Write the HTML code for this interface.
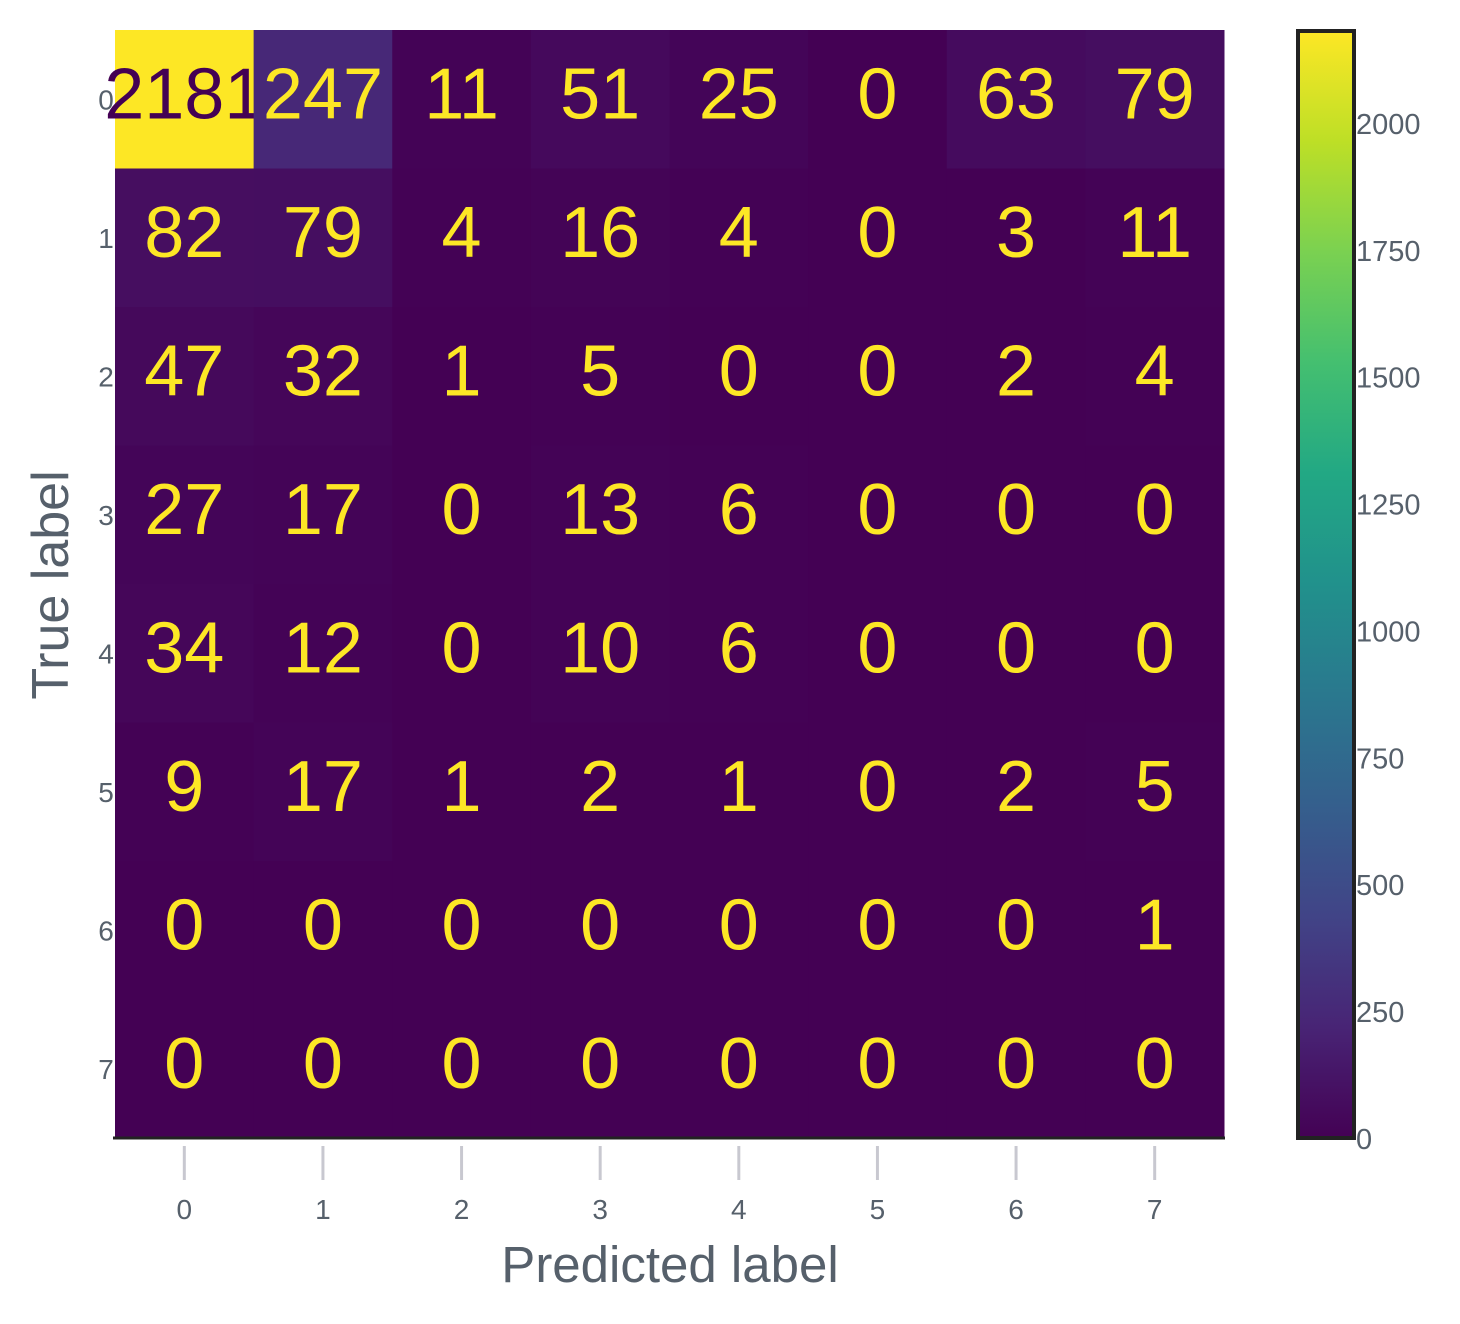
<!DOCTYPE html>
<html><head><meta charset="utf-8"><style>
html,body{margin:0;padding:0;background:#fff;}
svg{display:block;font-family:"Liberation Sans","DejaVu Sans",sans-serif;}
</style></head><body>
<svg id="chart" width="1460" height="1324" viewBox="0 0 1460 1324" xmlns="http://www.w3.org/2000/svg">
<defs>
<linearGradient id="vir" x1="0" y1="1" x2="0" y2="0">
<stop offset="0" stop-color="#440154"/><stop offset="0.1" stop-color="#482475"/><stop offset="0.2" stop-color="#414487"/><stop offset="0.3" stop-color="#355f8d"/><stop offset="0.4" stop-color="#2a788e"/><stop offset="0.5" stop-color="#21918c"/><stop offset="0.6" stop-color="#22a884"/><stop offset="0.7" stop-color="#44bf70"/><stop offset="0.8" stop-color="#7ad151"/><stop offset="0.9" stop-color="#bddf26"/><stop offset="1" stop-color="#fde725"/>
</linearGradient>
</defs>
<g id="cells"></g>
<g id="axes"></g>
<g id="cbar"></g>
</svg>
<script>
const predLabels = ["0","1","2","3","4","5","6","7"];
const trueLabels = ["0","1","2","3","4","5","6","7"];
const row0 = [2181,247,11,51,25,0,63,79];
const row1 = [82,79,4,16,4,0,3,11];
const row2 = [47,32,1,5,0,0,2,4];
const row3 = [27,17,0,13,6,0,0,0];
const row4 = [34,12,0,10,6,0,0,0];
const row5 = [9,17,1,2,1,0,2,5];
const row6 = [0,0,0,0,0,0,0,1];
const row7 = [0,0,0,0,0,0,0,0];
const matrix = [row0,row1,row2,row3,row4,row5,row6,row7];
const cbarTicks = [0,250,500,750,1000,1250,1500,1750,2000];

const NS="http://www.w3.org/2000/svg";
const X0=115,X1=1224,Y0=30,Y1=1138;
const n=predLabels.length;
const cw=(X1-X0)/n, ch=(Y1-Y0)/trueLabels.length;
const vmax=Math.max(...matrix.flat()), vmin=0;
const xc=i=>X0+cw*(i+0.5), yc=j=>Y0+ch*(j+0.5);
const CB0=1138,CB1=31;
const cy=v=>CB0-(v-vmin)/(vmax-vmin)*(CB0-CB1);
const vir=[[68,1,84],[72,36,117],[65,68,135],[53,95,141],[42,120,142],[33,145,140],[34,168,132],[68,191,112],[122,209,81],[189,223,38],[253,231,37]];
function color(v){let t=(v-vmin)/(vmax-vmin)*10;let i=Math.min(9,Math.floor(t));let f=t-i;const a=vir[i],b=vir[i+1];return `rgb(${a.map((c,k)=>Math.round(c+(b[k]-c)*f)).join(",")})`;}
function mk(tag,attrs,parent,text){const e=document.createElementNS(NS,tag);for(const k in attrs)e.setAttribute(k,attrs[k]);if(text!==undefined)e.textContent=text;parent.appendChild(e);return e;}
const cells=document.getElementById('cells');
matrix.forEach((row,j)=>row.forEach((v,i)=>{
  const r=mk('rect',{x:X0+cw*i,y:Y0+ch*j,width:cw+0.5,height:ch+0.5,fill:color(v)},cells);
  
  
  const t=mk('text',{x:xc(i),y:yc(j)+19,'text-anchor':'middle','font-size':72,fill:(v/vmax>0.5?'#440154':'#fde725')},cells,String(v));
  
  
}));
const ax=document.getElementById('axes');
const al=mk('line',{x1:113,y1:1138,x2:1225,y2:1138,stroke:'#222',"stroke-width":3},ax);


predLabels.forEach((l,i)=>{
  const tk=mk('line',{x1:xc(i),y1:1146,x2:xc(i),y2:1180,stroke:'#c8c8d0',"stroke-width":3},ax);
  
  
  const t=mk('text',{x:xc(i),y:1219,'text-anchor':'middle','font-size':28,fill:'#56606b'},ax,l);
  
  
});
trueLabels.forEach((l,j)=>{
  const t=mk('text',{x:106,y:yc(j)+10,'text-anchor':'middle','font-size':28,fill:'#56606b'},ax,l);
  
  
});
const xt=mk('text',{x:670,y:1282,'text-anchor':'middle','font-size':51,fill:'#56606b'},ax,'Predicted label');


const yt=mk('text',{x:0,y:0,'text-anchor':'middle','font-size':52,fill:'#56606b',transform:'translate(68,585) rotate(-90)'},ax,'True label');


const cb=document.getElementById('cbar');
const cr=mk('rect',{x:1298,y:31,width:56,height:1107,fill:'url(#vir)',stroke:'#222','stroke-width':4},cb);


cbarTicks.forEach(v=>{
  const t=mk('text',{x:1356,y:cy(v)+11,'font-size':29,fill:'#56606b'},cb,String(v));
  
  
});
</script>
</body></html>
